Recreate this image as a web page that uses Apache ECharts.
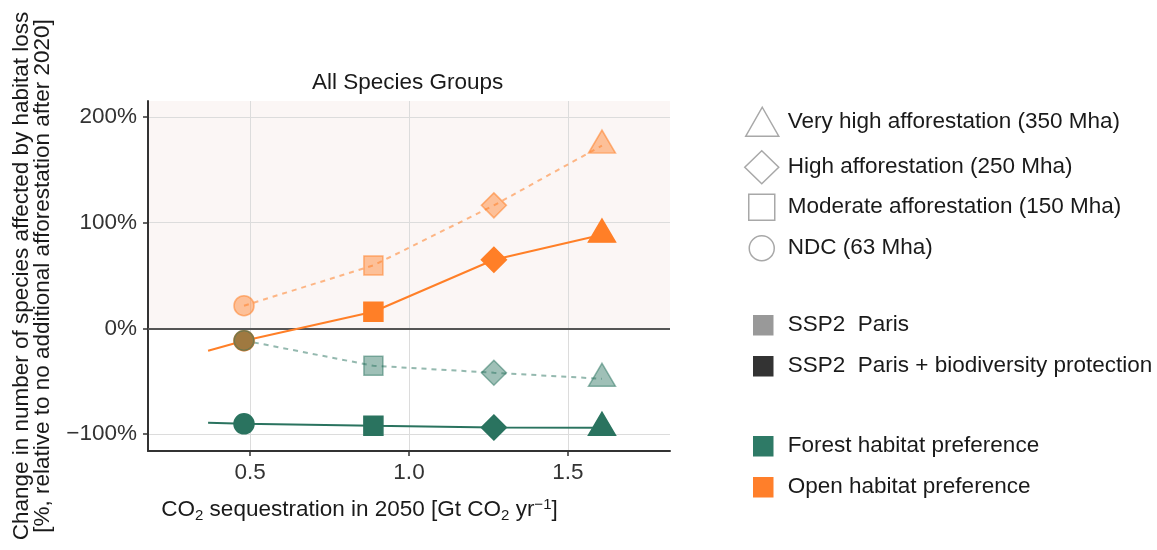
<!DOCTYPE html>
<html>
<head>
<meta charset="utf-8">
<script src="https://cdn.jsdelivr.net/npm/echarts@6/dist/echarts.min.js"></script>
<style>
  html, body { margin: 0; padding: 0; background: #fff; }
  #chart { width: 1157px; height: 550px; }
</style>
</head>
<body>
<div id="chart"></div>
<script>
// scenarios, in plotting order along the x axis
var scenarios = ['NDC (63 Mha)', 'Moderate afforestation (150 Mha)', 'High afforestation (250 Mha)', 'Very high afforestation (350 Mha)'];
var sequestration = [0.481, 0.888, 1.267, 1.607];   // Gt CO2 / yr in 2050

// change in number of species affected by habitat loss [%]
var openParis    = [21.4, 59.5, 116.3, 172.8];
var openBio      = [-11.7, 15.7, 64.9, 88.6];
var forestParis  = [-11.5, -35.4, -42.0, -47.7];
var forestBio    = [-90.3, -92.2, -93.8, -94.1];

// the solid lines start a bit left of the NDC point
var lineStartX   = 0.368;
var openBioStart = -21.2;
var forestBioStart = -89.3;

var xTicks = [0.5, 1.0, 1.5];
var yTicks = [-100, 0, 100, 200];

var shapes = ['circle', 'rect', 'diamond', 'triangle'];
var shapeSizes = [20, 19, 25, [27, 23]];
var shapeOffsets = [[0, 0], [0, 0], [0, 0], [0, -4]];

var orange = '#ff7f27';
var green = '#2a735f';
var FONT = 'Liberation Sans';

function points(ys, startY) {
    var out = [];
    if (startY !== undefined) out.push({ value: [lineStartX, startY], symbol: 'none' });
    for (var i = 0; i < ys.length; i++) {
        out.push({
            value: [sequestration[i], ys[i]],
            symbol: shapes[i],
            symbolSize: shapeSizes[i],
            symbolOffset: shapeOffsets[i]
        });
    }
    return out;
}

function lineSeries(name, data, color, fill, dashed) {
    return {
        name: name,
        type: 'line',
        data: data,
        showSymbol: true,
        lineStyle: { color: color, width: 2, type: dashed ? [5, 5] : 'solid' },
        itemStyle: { color: fill, borderColor: color, borderWidth: 1.5 },
        emphasis: { disabled: true },
        silent: true,
        z: 2
    };
}

// legend entries (shape legend, scenario legend, habitat legend)
var legendItems = [
    { name: scenarios[3], icon: 'triangle', w: 33, h: 29, cx: 761.5, cy: 121, fill: 'rgba(0,0,0,0)', border: '#a8a8a8' },
    { name: scenarios[2], icon: 'diamond', w: 34, h: 33, cx: 761, cy: 166.5, fill: 'rgba(0,0,0,0)', border: '#a8a8a8' },
    { name: scenarios[1], icon: 'rect', w: 26, h: 26, cx: 761, cy: 206.5, fill: 'rgba(0,0,0,0)', border: '#a8a8a8' },
    { name: scenarios[0], icon: 'circle', w: 25, h: 25, cx: 761, cy: 247.5, fill: 'rgba(0,0,0,0)', border: '#a8a8a8' },
    { name: 'SSP2  Paris', icon: 'rect', w: 19, h: 19, cx: 762.5, cy: 325, fill: '#999999', border: '#999999' },
    { name: 'SSP2  Paris + biodiversity protection', icon: 'rect', w: 19, h: 19, cx: 762.5, cy: 366, fill: '#333333', border: '#333333' },
    { name: 'Forest habitat preference', icon: 'rect', w: 19, h: 19, cx: 762.5, cy: 446, fill: '#2e7a66', border: '#2e7a66' },
    { name: 'Open habitat preference', icon: 'rect', w: 19, h: 19, cx: 762.5, cy: 487, fill: '#ff7f2a', border: '#ff7f2a' }
];
var textLeft = 787;
var textH = 22.5;

var legends = legendItems.map(function (it) {
    var left = it.cx - it.w / 2;
    return {
        left: left,
        top: it.cy - Math.max(it.h, textH) / 2,
        orient: 'vertical',
        padding: 0,
        itemWidth: it.w,
        itemHeight: it.h,
        selectedMode: false,
        textStyle: {
            fontFamily: FONT, fontSize: 22.5, color: '#1a1a1a',
            padding: [0, 0, 0, textLeft - (left + it.w + 5)]
        },
        data: [{
            name: it.name,
            icon: it.icon,
            itemStyle: { color: it.fill, borderColor: it.border, borderWidth: 1.5, opacity: 1 }
        }]
    };
});

var legendDummies = legendItems.map(function (it) {
    return { name: it.name, type: 'scatter', data: [], symbol: it.icon,
             itemStyle: { color: it.fill, borderColor: it.border, borderWidth: 1.5, opacity: 1 } };
});

var chart = echarts.init(document.getElementById('chart'));
var option = {
    animation: false,
    backgroundColor: '#ffffff',
    title: {
        text: 'All Species Groups',
        left: 312,
        top: 71,
        padding: 0,
        textStyle: { fontFamily: FONT, fontSize: 22.5, fontWeight: 'normal', color: '#1a1a1a' }
    },
    legend: legends,
    grid: { left: 148, right: 487, top: 101, bottom: 99, containLabel: false },
    xAxis: {
        type: 'value',
        min: 0.179,
        max: 1.821,
        name: '{n|CO}{s|2}{n| sequestration in 2050 [Gt CO}{s|2}{n| yr}{p|\u22121}{n|]}',
        nameLocation: 'middle',
        nameGap: 46,
        nameTextStyle: {
            padding: [0, 99, 0, 0],
            rich: {
                n: { fontFamily: FONT, fontSize: 22.5, color: '#1a1a1a', lineHeight: 26 },
                s: { fontFamily: FONT, fontSize: 15, color: '#1a1a1a', lineHeight: 14, verticalAlign: 'bottom' },
                p: { fontFamily: FONT, fontSize: 15, color: '#1a1a1a', lineHeight: 14, verticalAlign: 'top' }
            }
        },
        axisLine: { onZero: false, lineStyle: { color: '#333', width: 2 } },
        axisTick: { customValues: xTicks, length: 5, lineStyle: { color: '#333', width: 1.5 } },
        axisLabel: {
            customValues: xTicks,
            margin: 10,
            fontFamily: FONT, fontSize: 22.5, color: '#333',
            formatter: function (v) { return v.toFixed(1); }
        },
        splitLine: { show: true, lineStyle: { color: '#dcdcdc', width: 1 } }
    },
    yAxis: {
        type: 'value',
        min: -116,
        max: 215,
        name: 'Change in number of species affected by habitat loss\n[%, relative to no additional afforestation after 2020]',
        nameLocation: 'middle',
        nameGap: 95,
        nameTextStyle: { fontFamily: FONT, fontSize: 22.5, color: '#1a1a1a', lineHeight: 21 },
        axisLine: { onZero: false, lineStyle: { color: '#333', width: 2 } },
        axisTick: { customValues: yTicks, length: 5, lineStyle: { color: '#333', width: 1.5 } },
        axisLabel: {
            customValues: yTicks,
            margin: 11,
            fontFamily: FONT, fontSize: 22.5, color: '#333',
            formatter: function (v) { return (v < 0 ? '\u2212' + (-v) : v) + '%'; }
        },
        splitLine: { show: true, lineStyle: { color: '#dcdcdc', width: 1 } }
    },
    series: [
        {
            name: 'bg',
            type: 'line',
            data: [],
            silent: true,
            markArea: {
                silent: true,
                z: -1,
                itemStyle: { color: '#fbf6f5' },
                data: [[{ yAxis: 0 }, { yAxis: 215 }]]
            },
            markLine: {
                silent: true,
                z: 1,
                symbol: 'none',
                label: { show: false },
                lineStyle: { color: '#555', width: 2, type: 'solid' },
                data: [{ yAxis: 0 }]
            }
        },
        lineSeries('Open, SSP2 Paris', points(openParis), 'rgba(255,127,39,0.55)', 'rgba(255,127,39,0.45)', true),
        lineSeries('Open, SSP2 Paris + biodiversity', points(openBio, openBioStart), orange, orange, false),
        lineSeries('Forest, SSP2 Paris', points(forestParis), 'rgba(42,115,95,0.5)', 'rgba(42,115,95,0.45)', true),
        lineSeries('Forest, SSP2 Paris + biodiversity', points(forestBio, forestBioStart), green, green, false)
    ].concat(legendDummies)
};
chart.setOption(option);
</script>
</body>
</html>
